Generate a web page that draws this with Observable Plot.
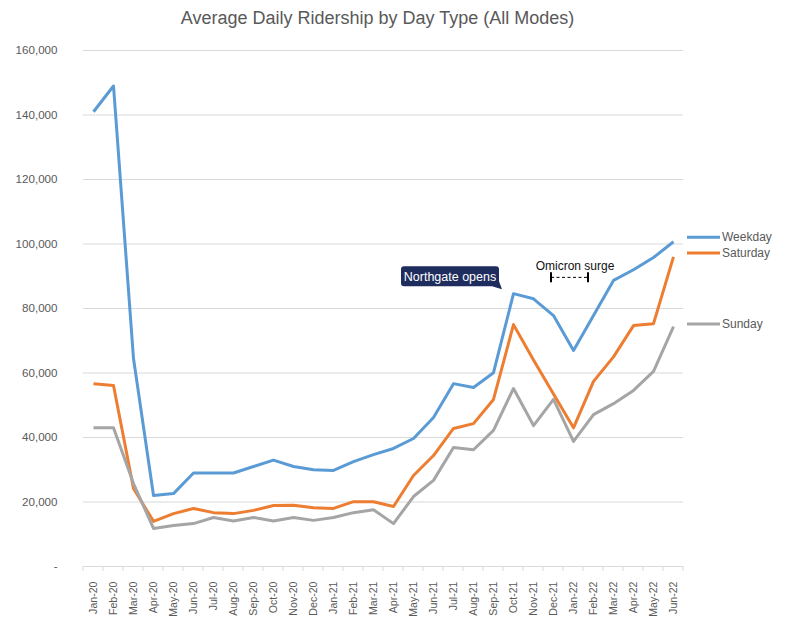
<!DOCTYPE html>
<html><head><meta charset="utf-8">
<script src="https://cdn.jsdelivr.net/npm/d3@7"></script>
<script src="https://cdn.jsdelivr.net/npm/@observablehq/plot@0.6"></script>
<style>
body{margin:0;background:#fff;font-family:"Liberation Sans",Arial,sans-serif;}
#title{width:785px;height:36px;line-height:36px;text-align:center;font-size:18px;color:#595959;box-sizing:border-box;padding-right:30px;}
#chart svg{display:block;}
</style></head><body>
<div id="title">Average Daily Ridership by Day Type (All Modes)</div>
<div id="chart"></div>
<script>
const months = ["Jan-20","Feb-20","Mar-20","Apr-20","May-20","Jun-20","Jul-20","Aug-20","Sep-20","Oct-20","Nov-20","Dec-20",
  "Jan-21","Feb-21","Mar-21","Apr-21","May-21","Jun-21","Jul-21","Aug-21","Sep-21","Oct-21","Nov-21","Dec-21",
  "Jan-22","Feb-22","Mar-22","Apr-22","May-22","Jun-22"];
const weekday = [141000,149000,64500,22000,22600,29000,29000,29000,31000,33000,31000,30000,
  29800,32500,34700,36600,39700,46200,56700,55500,60100,84600,83000,77800,
  67000,77800,88700,92000,95800,100700];
const saturday = [56700,56100,24200,14000,16400,18000,16700,16400,17400,18900,19000,18200,
  18000,20100,20100,18600,28200,34400,42800,44300,51800,75000,64000,53500,
  43000,57400,65000,74700,75300,96000];
const sunday = [43000,43000,25700,11800,12700,13300,15200,14100,15200,14100,15200,14300,
  15200,16700,17600,13300,21700,26700,36900,36200,42200,55200,43700,51800,
  38800,47100,50500,54600,60500,74400];
const seriesNames = ["Weekday","Saturday","Sunday"];
const seriesColors = ["#5b9bd5","#ed7d31","#a5a5a5"];
const yTicks = [0,20000,40000,60000,80000,100000,120000,140000,160000];
const noteNorthgate = {label:"Northgate opens", month:"Oct-21"};
const noteOmicron = {label:"Omicron surge", from:"Dec-21", mid:"Jan-22", to:"Feb-22", level:89500};

const FONT = "Liberation Sans, Arial, sans-serif";
const seriesValues = {Weekday: weekday, Saturday: saturday, Sunday: sunday};
const data = seriesNames.flatMap(s => months.map((m, i) => ({month: m, series: s, value: seriesValues[s][i]})));
const colorOf = Object.fromEntries(seriesNames.map((s, i) => [s, seriesColors[i]]));

function boundaryTicks(index, scales) {
  const x = scales.x, y = scales.y;
  const step = x(months[1]) - x(months[0]);
  const y0 = y(0);
  const g = d3.create("svg:g").attr("stroke", "#d9d9d9").attr("stroke-width", 1);
  const xs = months.map(m => x(m) - step / 2).concat([x(months[months.length - 1]) + step / 2]);
  xs.forEach(v => g.append("line").attr("x1", v).attr("x2", v).attr("y1", y0).attr("y2", y0 + 5));
  return g.node();
}

function legendMark(index, scales) {
  const x = scales.x, y = scales.y;
  const xEnd = x(months[months.length - 1]);
  const offsets = {Weekday: -4, Saturday: -3.5, Sunday: -2};
  const g = d3.create("svg:g").attr("font-size", "12px").attr("fill", "#595959").attr("text-anchor", "start");
  seriesNames.forEach(s => {
    const vals = seriesValues[s];
    const yy = y(vals[vals.length - 1]) + offsets[s];
    g.append("line").attr("x1", xEnd + 14).attr("x2", xEnd + 47).attr("y1", yy).attr("y2", yy)
      .attr("stroke", colorOf[s]).attr("stroke-width", 3);
    g.append("text").attr("x", xEnd + 49).attr("y", yy).attr("dy", "0.35em").text(s);
  });
  return g.node();
}

function annotationMark(index, scales) {
  const x = scales.x, y = scales.y;
  const g = d3.create("svg:g");
  const mi = months.indexOf(noteNorthgate.month);
  const px = x(noteNorthgate.month), py = y(weekday[mi]);
  const right = px - 14, bottom = py - 7, w = 98, h = 20, left = right - w, top = bottom - h, r = 3;
  const path = `M${left + r},${top} H${right - r} Q${right},${top} ${right},${top + r} V${bottom - 5} L${right + 3},${bottom + 3} L${right - 7},${bottom} H${left + r} Q${left},${bottom} ${left},${bottom - r} V${top + r} Q${left},${top} ${left + r},${top} Z`;
  g.append("path").attr("d", path).attr("fill", "#1f2d5e");
  g.append("text").attr("x", (left + right) / 2).attr("y", (top + bottom) / 2).attr("dy", "0.36em")
    .attr("text-anchor", "middle").attr("fill", "#fff").attr("font-size", "12.5px").text(noteNorthgate.label);
  const x1 = x(noteOmicron.from) - 2, x2 = x(noteOmicron.to) - 5, yb = y(noteOmicron.level);
  g.append("line").attr("x1", x1).attr("x2", x2).attr("y1", yb).attr("y2", yb)
    .attr("stroke", "#000").attr("stroke-width", 1).attr("stroke-dasharray", "3,2.5");
  [x1, x2].forEach(v => g.append("line").attr("x1", v).attr("x2", v).attr("y1", yb - 5).attr("y2", yb + 5)
    .attr("stroke", "#000").attr("stroke-width", 2));
  g.append("text").attr("x", x(noteOmicron.mid) + 2).attr("y", yb - 12).attr("dy", "0.35em")
    .attr("text-anchor", "middle").attr("fill", "#111").attr("font-size", "12px").text(noteOmicron.label);
  return g.node();
}

const plot = Plot.plot({
  width: 785, height: 586,
  marginTop: 14, marginBottom: 56, marginLeft: 83, marginRight: 102,
  style: {fontFamily: FONT, fontSize: "11.6px", color: "#595959", background: "#fff"},
  x: {type: "point", domain: months, padding: 0.5, label: null},
  y: {domain: [0, 160000], label: null},
  color: {domain: seriesNames, range: seriesColors},
  marks: [
    Plot.ruleY(yTicks.filter(d => d > 0), {stroke: "#d9d9d9", strokeWidth: 1}),
    Plot.ruleY([0], {stroke: "#d9d9d9", strokeWidth: 1}),
    boundaryTicks,
    Plot.axisY({ticks: yTicks, tickSize: 0, tickPadding: 26, label: null, fontSize: "11.6px",
      tickFormat: d => d === 0 ? "-" : d3.format(",")(d)}),
    Plot.axisX({tickSize: 0, tickPadding: 15, tickRotate: -90, label: null, fontSize: "10.6px"}),
    Plot.line(data, {x: "month", y: "value", z: "series", stroke: "series", strokeWidth: 3,
      strokeLinejoin: "round", strokeLinecap: "butt"}),
    legendMark,
    annotationMark
  ]
});
document.getElementById("chart").appendChild(plot);
</script>
</body></html>
